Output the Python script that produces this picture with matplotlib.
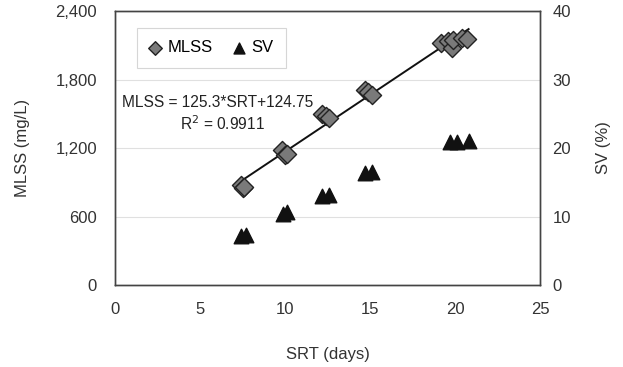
import numpy as np
import matplotlib
matplotlib.use("Agg")
import matplotlib.pyplot as plt

plt.rcParams['font.family'] = ['Liberation Sans', 'DejaVu Sans']

# MLSS data (SRT days, mg/L)
mlss_srt = [7.4, 7.5, 7.6, 9.8, 10.0, 10.1, 12.2, 12.4, 12.6, 14.7, 14.9, 15.1,
            19.2, 19.6, 19.8, 19.9, 20.4, 20.7]
mlss_val = [880, 850, 860, 1180, 1140, 1150, 1500, 1480, 1460, 1710, 1690, 1664,
            2120, 2140, 2076, 2150, 2163, 2155]
# SV data (SRT days, %)
sv_srt = [7.4, 7.7, 9.9, 10.1, 12.2, 12.6, 14.7, 15.1, 19.7, 20.1, 20.8]
sv_val = [7.2, 7.3, 10.4, 10.6, 13.0, 13.2, 16.3, 16.5, 20.9, 20.9, 21.0]

x_ticks = [0, 5, 10, 15, 20, 25]
y_ticks = [0, 600, 1200, 1800, 2400]
y_tick_labels = ['0', '600', '1,200', '1,800', '2,400']
y2_ticks = [0, 10, 20, 30, 40]

FS = 12
fig = plt.figure(figsize=(6.23, 3.67), dpi=100)
ax = fig.add_axes([0.1846, 0.2234, 0.8668 - 0.1846, 0.970 - 0.2234])
ax2 = ax.twinx()

for y in [600, 1200, 1800]:
    ax.axhline(y, color='#e0e0e0', lw=0.8, zorder=0)

# fit line
coef = np.polyfit(mlss_srt, mlss_val, 1)
xl = np.array([min(mlss_srt), max(mlss_srt) + 0.1])
ax.plot(xl, np.polyval(coef, xl), color='#111111', lw=1.4, zorder=3)

ax.scatter(mlss_srt, mlss_val, marker='D', s=85, facecolor='#7a7a7a',
           edgecolor='#222222', linewidth=1.0, zorder=4, label='MLSS')
ax2.scatter(sv_srt, sv_val, marker='^', s=110, facecolor='#111111',
            edgecolor='#111111', zorder=4, label='SV')

ax.set_xlim(0, 25)
ax.set_ylim(0, 2400)
ax2.set_ylim(0, 40)
ax.set_xticks(x_ticks)
ax.set_yticks(y_ticks)
ax.set_yticklabels(y_tick_labels)
ax2.set_yticks(y2_ticks)

ax.tick_params(axis='x', length=0, pad=12, labelsize=FS, colors='#333333')
ax.tick_params(axis='y', length=0, pad=13, labelsize=FS, colors='#333333')
ax2.tick_params(axis='y', length=0, pad=9, labelsize=FS, colors='#333333')

for a in (ax, ax2):
    for s in a.spines.values():
        s.set_color('#444444')
        s.set_linewidth(1.0)

ax.set_xlabel('SRT (days)', fontsize=FS, color='#333333', labelpad=22)
ax.set_ylabel('MLSS (mg/L)', fontsize=FS, color='#333333', labelpad=18)
ax2.set_ylabel('SV (%)', fontsize=FS, color='#333333', labelpad=18)

ax.text(0.0165, 1600, 'MLSS = 125.3*SRT+124.75', fontsize=11.2, color='#222222',
        ha='left', va='center', transform=ax.get_yaxis_transform())
ax.text(6.3, 1410, 'R$^2$ = 0.9911', fontsize=11.2, color='#222222',
        ha='center', va='center')

h1, l1 = ax.get_legend_handles_labels()
h2, l2 = ax2.get_legend_handles_labels()
leg = ax2.legend(h1 + h2, l1 + l2, loc='upper left', bbox_to_anchor=(0.052, 0.938),
                 borderaxespad=0, ncol=2, frameon=True, fancybox=False, fontsize=FS,
                 handletextpad=0.4, columnspacing=1.2, borderpad=0.75,
                 handlelength=0.7, markerscale=0.75)
leg.get_frame().set_edgecolor('#cccccc')
leg.get_frame().set_linewidth(0.8)

fig.savefig('out.png', dpi=100)
